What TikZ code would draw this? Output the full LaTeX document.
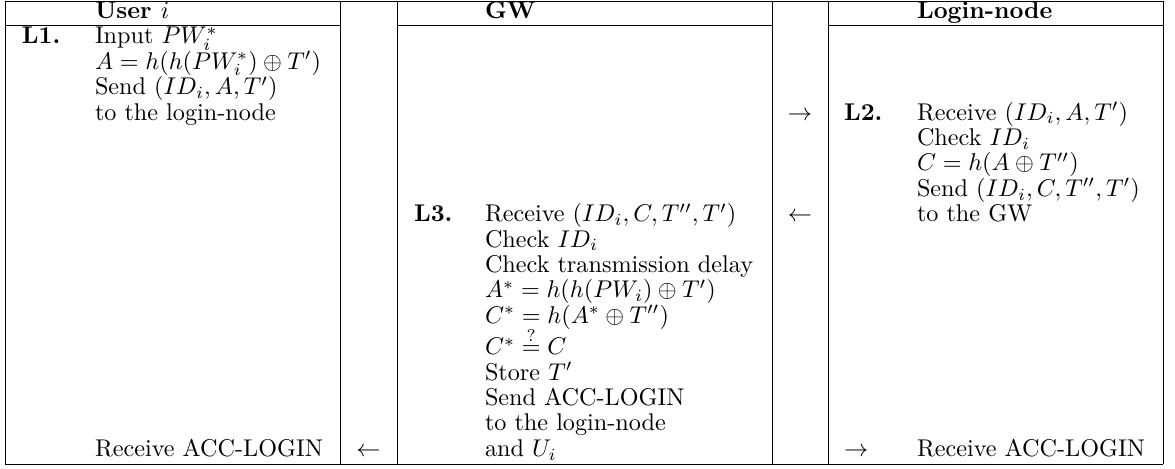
\documentclass[tikz,border=0pt]{standalone}
\usepackage{amsmath}
\begin{document}
\begin{tikzpicture}[x=0.4132pt,y=-0.4132pt,
  txt/.style={anchor=base west,inner sep=0pt,outer sep=0pt},
  arr/.style={anchor=base,inner sep=0pt,outer sep=0pt},
  rule/.style={line width=0.4pt,line cap=rect}]
\useasboundingbox (0,0) rectangle (1175,469);

% table frame
\draw[rule] (5,1) -- (1163,1);
\draw[rule] (5,464) -- (1163,464);
\foreach \x in {5,340,397,772,828,1163} \draw[rule] (\x,1) -- (\x,464);
\draw[rule] (5,25.5) -- (340,25.5);
\draw[rule] (397,25.5) -- (772,25.5);
\draw[rule] (828,25.5) -- (1163,25.5);

% headers
\node[txt] (hu) at (95,18.5) {\textbf{User $i$}};
\node[txt] (hg) at (485,18.5) {\textbf{GW}};
\node[txt] (hl) at (917,18.5) {\textbf{Login-node}};

% user
\node[txt] (ul) at (22,44) {\textbf{L1.}};
\node[txt] (u1) at (95,44) {Input $PW_i^*$};
\node[txt] (u2) at (95,69.4) {$A = h(h(PW_i^*) \oplus T')$};
\node[txt] (u3) at (95,94.8) {Send $(ID_i, A, T')$};
\node[txt] (u4) at (95,120.2) {to the login-node};
\node[txt] (u5) at (95,456.4) {Receive ACC-LOGIN};

% login-node
\node[arr] (a1) at (800,120.2) {$\rightarrow$};
\node[txt] (ll) at (844,120.2) {\textbf{L2.}};
\node[txt] (l1) at (917,120.2) {Receive $(ID_i, A, T')$};
\node[txt] (l2) at (917,145.6) {Check $ID_i$};
\node[txt] (l3) at (917,171) {$C = h(A \oplus T'')$};
\node[txt] (l4) at (917,196.4) {Send $(ID_i, C, T'', T')$};
\node[txt] (l5) at (917,221.8) {to the GW};

% gateway
\node[arr] (a2) at (800,221.8) {$\leftarrow$};
\node[txt] (gl) at (414,221.8) {\textbf{L3.}};
\node[txt] (g1) at (485,221.8) {Receive $(ID_i, C, T'', T')$};
\node[txt] (g2) at (485,247.2) {Check $ID_i$};
\node[txt] (g3) at (485,272.6) {Check transmission delay};
\node[txt] (g4) at (485,298) {$A^* = h(h(PW_i) \oplus T')$};
\node[txt] (g5) at (485,323.4) {$C^* = h(A^* \oplus T'')$};
\node[txt] (g6) at (485,354.8) {$C^* \stackrel{?}{=} C$};
\node[txt] (g7) at (485,380.2) {Store $T'$};
\node[txt] (g8) at (485,405.6) {Send ACC-LOGIN};
\node[txt] (g9) at (485,431) {to the login-node};
\node[txt] (g10) at (485,456.4) {and $U_i$};

% final acknowledgements
\node[arr] (a3) at (368.5,456.4) {$\leftarrow$};
\node[txt] (a4) at (844,456.4) {$\rightarrow$};
\node[txt] (l6) at (917,456.4) {Receive ACC-LOGIN};
\end{tikzpicture}
\end{document}
